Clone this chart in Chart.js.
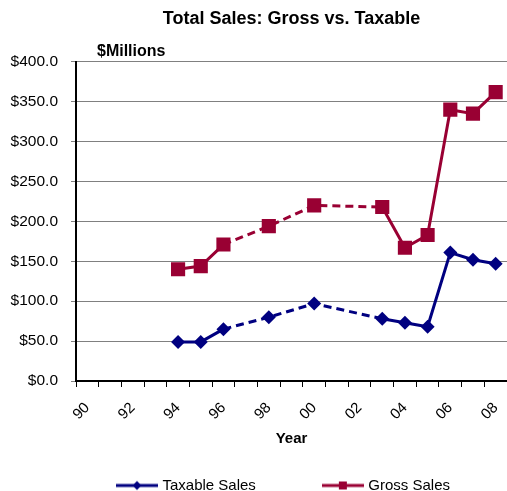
<!DOCTYPE html>
<html>
<head>
<meta charset="utf-8">
<title>Total Sales: Gross vs. Taxable</title>
<script src="https://cdn.jsdelivr.net/npm/chart.js@4.4.1/dist/chart.umd.min.js"></script>
<style>
  html, body { margin: 0; padding: 0; background: #fff; overflow: hidden; }
  #marco { width: 507px; height: 491px; }
</style>
</head>
<body>
<div id="marco"><canvas id="MiGrafica" width="507" height="491"></canvas></div>
<script>
// datos (millones de dolares), null = ano sin dato
const anios = ["90", "91", "92", "93", "94", "95", "96", "97", "98", "99",
               "00", "01", "02", "03", "04", "05", "06", "07", "08"];
const ventasGravables = [null, null, null, null, 49, 49, 65, null, 80, null,
                         97, null, null, 78, 73, 68, 161, 152, 147];
const ventasBrutas = [null, null, null, null, 140, 144, 171, null, 194, null,
                      220, null, null, 218, 167, 183, 340, 335, 362];
const tituloTexto = "Total Sales: Gross vs. Taxable";
const subtituloTexto = "$Millions";

const AZUL = "#000080";
const GRANATE = "#990033";
const fuente = "'Liberation Sans', Arial, sans-serif";

// muestra de leyenda: linea con marcador
function muestra(color, forma) {
  const c = document.createElement("canvas");
  c.width = 42;
  c.height = 12;
  const g = c.getContext("2d");
  g.strokeStyle = color;
  g.fillStyle = color;
  g.lineWidth = 3;
  g.beginPath();
  g.moveTo(0, 6);
  g.lineTo(42, 6);
  g.stroke();
  g.beginPath();
  if (forma === "rombo") {
    g.moveTo(21, 1.5); g.lineTo(25.5, 6); g.lineTo(21, 10.5); g.lineTo(16.5, 6);
  } else {
    g.rect(17, 2, 8, 8);
  }
  g.closePath();
  g.fill();
  return c;
}

const saltos = (ctx, valor) => (ctx.p0.skip || ctx.p1.skip ? valor : undefined);

// ajusta titulos sobre el area de la grafica y coloca la leyenda
const posTitulos = {
  id: "posTitulos",
  afterLayout(chart) {
    const area = chart.chartArea;
    chart.boxes.forEach(b => {
      if (!b.options) return;
      if (b.options.text === tituloTexto) {
        b.left = area.left;
        b.right = area.right;
      } else if (b.options.text === subtituloTexto) {
        b.left = area.left + 21;
        b.right = area.right;
      }
    });
    const ley = chart.legend;
    if (ley) {
      ley.top = 409;
      ley.bottom = chart.height;
      ley.height = ley.bottom - ley.top;
      ley.left = 31;
      ley.right = chart.width + 31;
      ley.width = chart.width;
    }
  }
};

const chartConfig = {
  type: "line",
  data: {
    labels: anios,
    datasets: [{
      label: "Taxable Sales",
      data: ventasGravables,
      borderColor: AZUL,
      backgroundColor: AZUL,
      borderWidth: 3,
      pointStyle: "rectRot",
      pointRadius: 7,
      pointBorderWidth: 0,
      spanGaps: true,
      segment: { borderDash: ctx => saltos(ctx, [8, 5]) }
    }, {
      label: "Gross Sales",
      data: ventasBrutas,
      borderColor: GRANATE,
      backgroundColor: GRANATE,
      borderWidth: 3,
      pointStyle: "rect",
      pointRadius: 10,
      pointBorderWidth: 0,
      spanGaps: true,
      segment: { borderDash: ctx => saltos(ctx, [8, 5]) }
    }]
  },
  options: {
    responsive: false,
    animation: false,
    events: [],
    layout: { autoPadding: false, padding: { left: 10, right: -2, top: 0, bottom: 0 } },
    scales: {
      x: {
        type: "category",
        offset: true,
        afterFit: s => { s.height = 67; s.paddingRight = 0; s.paddingLeft = 0; },
        grid: {
          offset: true,
          drawOnChartArea: false,
          tickColor: "#000",
          tickLength: 6,
          tickWidth: 1
        },
        border: { color: "#000", width: 2 },
        ticks: {
          autoSkip: false,
          minRotation: 45,
          maxRotation: 45,
          padding: 12,
          color: "#000",
          font: { family: fuente, size: 15 },
          callback: function (v, i) { return i % 2 === 0 ? this.getLabelForValue(v) : ""; }
        },
        title: {
          display: true,
          text: "Year",
          color: "#000",
          font: { family: fuente, size: 15, weight: "bold" },
          padding: { top: 3, bottom: 0 }
        }
      },
      y: {
        min: 0,
        max: 400,
        afterFit: s => { s.width = 66; },
        grid: {
          color: "#808080",
          lineWidth: 1,
          tickColor: "#808080",
          tickLength: 5
        },
        border: { color: "#000", width: 2 },
        ticks: {
          stepSize: 50,
          padding: 13,
          color: "#000",
          font: { family: fuente, size: 15.5 },
          callback: v => "$" + v.toFixed(1)
        }
      }
    },
    plugins: {
      title: {
        display: true,
        text: tituloTexto,
        color: "#000",
        font: { family: fuente, size: 18, weight: "bold" },
        padding: { top: 8, bottom: 12 }
      },
      subtitle: {
        display: true,
        text: subtituloTexto,
        align: "start",
        color: "#000",
        font: { family: fuente, size: 16, weight: "bold" },
        padding: { top: 0, bottom: 1 }
      },
      legend: {
        position: "bottom",
        maxHeight: 43,
        labels: {
          usePointStyle: true,
          pointStyleWidth: 36,
          padding: 69,
          color: "#000",
          font: { family: fuente, size: 15 },
          generateLabels: chart => {
            const items = Chart.defaults.plugins.legend.labels.generateLabels(chart);
            items[0].pointStyle = muestra(AZUL, "rombo");
            items[1].pointStyle = muestra(GRANATE, "cuadro");
            return items;
          }
        }
      },
      tooltip: { enabled: false }
    }
  },
  plugins: [posTitulos]
};

const miCanvas = document.getElementById("MiGrafica").getContext("2d");
const chart = new Chart(miCanvas, chartConfig);
</script>
</body>
</html>
